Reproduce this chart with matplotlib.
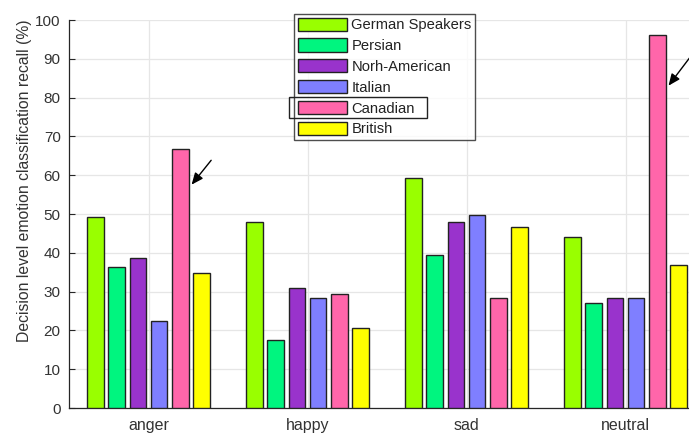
#!/usr/bin/env python3

import matplotlib

matplotlib.use("Agg")
import matplotlib.pyplot as plt
import numpy as np
from matplotlib.patches import Patch, Rectangle

EMOTIONS = ["anger", "happy", "sad", "neutral"]
GROUPS = ["German Speakers", "Persian", "Norh-American", "Italian", "Canadian", "British"]

german = [49.1, 47.9, 59.4, 44.2]
persian = [36.4, 17.5, 39.5, 27.1]
north_american = [38.7, 30.9, 48.0, 28.4]
italian = [22.4, 28.4, 49.7, 28.4]
canadian = [66.8, 29.3, 28.4, 96.1]
british = [34.9, 20.5, 46.7, 36.8]

COLORS = ["#99ff00", "#00f57f", "#9933cc", "#7f7fff", "#ff66aa", "#ffff00"]
TEXT = "#333333"

plt.rcParams["font.family"] = ["Liberation Sans", "DejaVu Sans"]

fig = plt.figure(figsize=(6.89, 4.34), dpi=100)
ax = fig.add_axes([69 / 689, 26 / 434, 636 / 689, 388 / 434])

series = [german, persian, north_american, italian, canadian, british]
x = np.arange(1, len(EMOTIONS) + 1)
step = 0.133
width = 0.105
for i, (vals, col) in enumerate(zip(series, COLORS)):
    off = (i - (len(series) - 1) / 2) * step
    ax.bar(x + off, vals, width=width, color=col, edgecolor="#222222",
           linewidth=1.0, zorder=3)

ax.set_xlim(0.5, 4.5)
ax.set_ylim(0, 100)
ax.set_yticks(np.arange(0, 101, 10))
ax.set_xticks(x)
ax.set_xticklabels(EMOTIONS)
ax.grid(True, color="#e6e6e6", linewidth=0.9, zorder=0)
ax.set_axisbelow(True)
for side in ("top", "right"):
    ax.spines[side].set_visible(False)
for side in ("left", "bottom"):
    ax.spines[side].set_color("#262626")
    ax.spines[side].set_linewidth(0.9)
ax.tick_params(axis="y", direction="in", length=4, colors="#262626",
               labelcolor=TEXT, labelsize=11, pad=6)
ax.tick_params(axis="x", length=0, labelcolor=TEXT, labelsize=11.5, pad=7)
ax.set_ylabel("Decision level emotion classification recall (%)",
              fontsize=11.3, color=TEXT)
ax.yaxis.set_label_coords(-0.058, 0.585)

# arrows pointing at the Canadian bars
cand = x + 1.5 * step
for xi, top, dy, tail in [(0, canadian[0], 9.8, (0.145, 7.4)),
                          (3, canadian[3], 13.6, (0.157, 8.5))]:
    tip = (cand[xi] + width / 2 + 0.008, top - dy)
    ax.annotate("", xy=tip, xytext=(tip[0] + tail[0], tip[1] + tail[1]),
                arrowprops=dict(arrowstyle="-|>,head_length=0.7,head_width=0.3",
                                color="black", lw=1.0),
                annotation_clip=False, zorder=5)

handles = [Patch(facecolor=c, edgecolor="#222222", linewidth=1.0) for c in COLORS]
leg = fig.legend(handles, GROUPS, loc="upper left",
                 bbox_to_anchor=(294 / 689, 1 - 14 / 434),
                 fontsize=10.6, frameon=True, fancybox=False,
                 handlelength=3.35, handleheight=1.0, handletextpad=0.3,
                 labelspacing=0.42, borderpad=0.25, borderaxespad=0.0)
leg.get_frame().set_edgecolor("#222222")
leg.get_frame().set_linewidth(1.0)
for t in leg.get_texts():
    t.set_color("#222222")

# highlight box around the Canadian entry
fig.patches.append(Rectangle((289 / 689, 1 - 118 / 434), 138 / 689, 21 / 434,
                             transform=fig.transFigure, fill=False,
                             edgecolor="#222222", linewidth=1.0, zorder=10))

fig.savefig("out.png", dpi=100)
